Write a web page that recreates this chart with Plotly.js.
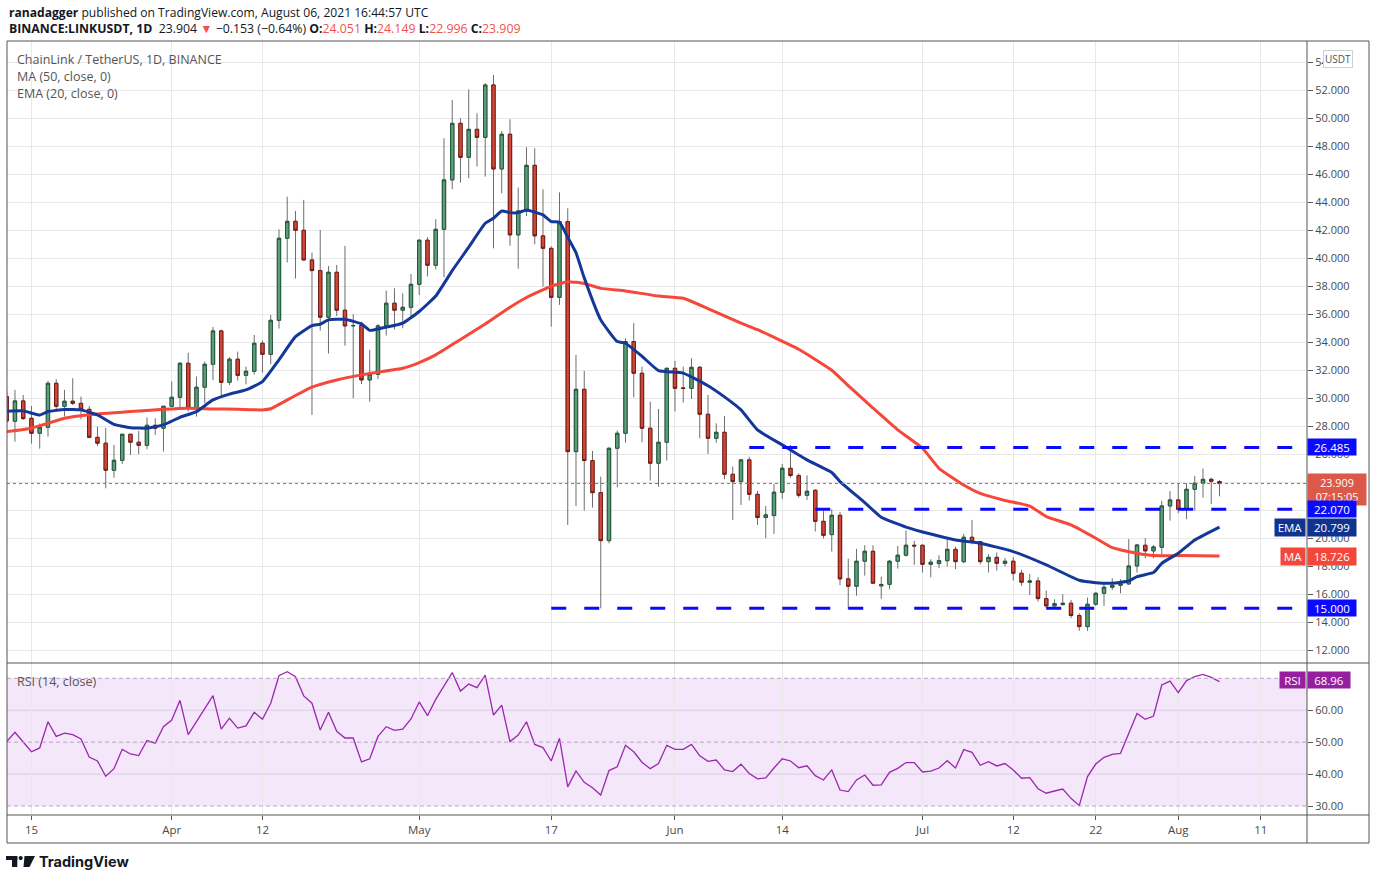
<!DOCTYPE html>
<html>
<head>
<meta charset="utf-8">
<script src="https://cdn.plot.ly/plotly-3.0.1.min.js"></script>
<style>
html,body{margin:0;padding:0;background:#fff;}
#chart{width:1376px;height:880px;}
</style>
</head>
<body>
<div id="chart"></div>
<script>
// ---------------- DATA ----------------
const dates = [
'2021-03-12','2021-03-13','2021-03-14','2021-03-15','2021-03-16','2021-03-17','2021-03-18','2021-03-19','2021-03-20','2021-03-21',
'2021-03-22','2021-03-23','2021-03-24','2021-03-25','2021-03-26','2021-03-27','2021-03-28','2021-03-29','2021-03-30','2021-03-31',
'2021-04-01','2021-04-02','2021-04-03','2021-04-04','2021-04-05','2021-04-06','2021-04-07','2021-04-08','2021-04-09','2021-04-10',
'2021-04-11','2021-04-12','2021-04-13','2021-04-14','2021-04-15','2021-04-16','2021-04-17','2021-04-18','2021-04-19','2021-04-20',
'2021-04-21','2021-04-22','2021-04-23','2021-04-24','2021-04-25','2021-04-26','2021-04-27','2021-04-28','2021-04-29','2021-04-30',
'2021-05-01','2021-05-02','2021-05-03','2021-05-04','2021-05-05','2021-05-06','2021-05-07','2021-05-08','2021-05-09','2021-05-10',
'2021-05-11','2021-05-12','2021-05-13','2021-05-14','2021-05-15','2021-05-16','2021-05-17','2021-05-18','2021-05-19','2021-05-20',
'2021-05-21','2021-05-22','2021-05-23','2021-05-24','2021-05-25','2021-05-26','2021-05-27','2021-05-28','2021-05-29','2021-05-30',
'2021-05-31',
'2021-06-01','2021-06-02','2021-06-03','2021-06-04','2021-06-05','2021-06-06','2021-06-07','2021-06-08','2021-06-09','2021-06-10',
'2021-06-11','2021-06-12','2021-06-13','2021-06-14','2021-06-15','2021-06-16','2021-06-17','2021-06-18','2021-06-19','2021-06-20',
'2021-06-21','2021-06-22','2021-06-23','2021-06-24','2021-06-25','2021-06-26','2021-06-27','2021-06-28','2021-06-29','2021-06-30',
'2021-07-01','2021-07-02','2021-07-03','2021-07-04','2021-07-05','2021-07-06','2021-07-07','2021-07-08','2021-07-09','2021-07-10',
'2021-07-11','2021-07-12','2021-07-13','2021-07-14','2021-07-15','2021-07-16','2021-07-17','2021-07-18','2021-07-19','2021-07-20',
'2021-07-21','2021-07-22','2021-07-23','2021-07-24','2021-07-25','2021-07-26','2021-07-27','2021-07-28','2021-07-29','2021-07-30',
'2021-07-31',
'2021-08-01','2021-08-02','2021-08-03','2021-08-04','2021-08-05','2021-08-06'
];

const open = [
// Mar
30.12,28.36,29.81,28.57,27.50,27.93,31.07,29.43,29.79,29.64,29.21,27.21,26.79,24.86,25.57,27.43,26.86,26.64,28.07,27.86,
// Apr
29.43,30.07,32.50,29.29,30.79,32.43,34.81,31.14,32.79,31.64,31.93,33.93,33.14,35.57,41.43,42.64,42.00,39.88,39.12,35.79,
39.00,36.29,35.17,35.20,31.31,31.71,35.17,36.79,36.29,36.50,
// May
38.14,41.29,39.50,42.07,45.60,49.64,47.21,49.21,48.64,52.38,46.38,48.86,41.67,43.38,46.64,41.60,40.71,37.21,42.62,26.19,
30.64,25.55,23.26,19.83,26.43,27.50,34.05,31.79,27.86,25.36,26.86,
// Jun
32.14,30.74,30.71,32.21,28.86,27.14,27.57,24.57,24.05,25.60,23.14,21.48,21.62,23.29,25.00,24.48,23.07,23.43,21.21,20.26,
21.64,17.10,16.57,18.36,19.07,16.60,16.71,18.36,18.79,19.50,
// Jul
19.50,18.14,18.19,18.40,19.21,18.33,20.07,19.76,18.33,18.64,18.21,18.36,17.50,16.86,16.95,15.69,15.17,15.26,15.36,14.48,
13.69,15.29,16.07,16.50,16.64,16.74,18.02,19.50,19.10,19.36,22.31,
// Aug
22.74,22.07,23.50,23.93,24.21,24.051
];
const high = [
30.55,30.60,30.24,29.45,28.20,31.24,31.36,30.60,31.43,30.12,29.45,27.98,27.88,26.67,27.45,27.45,27.67,28.64,28.57,29.45,
31.20,32.57,33.26,31.55,32.62,35.10,34.90,32.93,33.33,32.26,34.52,34.12,35.95,42.07,44.40,43.38,44.17,40.40,42.02,39.45,
39.52,40.88,36.00,35.48,33.45,35.30,37.69,37.86,37.50,38.88,
41.35,41.50,42.79,48.57,51.31,50.00,52.07,50.36,52.50,53.10,49.10,49.93,45.05,47.93,47.86,44.93,40.85,44.71,43.57,33.10,
31.95,26.24,24.40,26.50,27.70,34.29,35.36,32.26,29.76,29.24,32.20,
32.67,32.26,32.86,32.31,30.24,28.21,28.74,25.12,25.64,25.83,23.38,22.31,23.88,25.31,26.67,24.64,24.50,23.50,21.98,22.07,
21.88,18.55,19.24,19.50,19.50,17.26,18.45,19.45,20.55,19.81,
19.55,18.50,18.79,19.88,19.40,20.31,21.31,19.80,18.86,18.98,18.60,18.64,17.74,17.45,17.21,16.26,15.64,16.00,15.60,14.64,
15.76,16.14,16.83,17.14,17.07,19.95,19.60,20.00,19.52,22.67,23.38,
23.93,23.93,24.45,24.98,24.33,24.149
];
const low = [
28.20,26.90,28.45,26.76,26.40,27.26,29.05,28.70,29.52,28.50,27.14,26.60,23.57,24.33,25.31,25.95,26.00,26.36,27.38,26.20,
29.36,29.36,29.05,28.69,29.64,31.30,30.20,30.95,31.26,31.00,31.70,31.83,32.43,34.98,39.70,38.55,39.83,28.81,34.83,33.20,
35.88,33.76,30.00,31.02,29.76,31.36,34.48,34.93,35.00,35.83,
37.38,38.70,39.20,38.64,44.93,45.40,45.71,46.55,45.83,40.71,44.64,40.90,39.26,43.02,41.00,37.98,35.12,36.67,20.95,22.31,
21.98,22.19,15.00,19.64,23.64,26.83,30.07,26.86,24.12,23.69,25.55,
29.05,29.69,29.95,27.14,26.02,26.83,24.21,21.31,22.38,22.69,20.95,20.00,20.31,22.81,24.33,22.90,22.74,20.48,19.98,19.05,
16.64,14.95,15.90,17.33,16.74,15.67,16.36,17.83,18.69,18.10,
17.55,17.21,17.86,17.98,17.79,18.21,19.57,18.14,17.55,17.69,17.98,16.98,16.60,15.95,15.48,15.00,15.10,15.19,14.29,13.38,
13.38,15.17,15.17,16.31,16.07,16.67,17.55,18.57,18.57,18.81,21.26,
21.79,21.36,21.98,22.90,22.45,22.996
];
const close = [
28.38,29.81,28.55,27.50,27.93,31.07,29.43,29.79,29.64,29.21,27.21,26.79,24.86,25.57,27.43,26.86,26.64,28.07,27.86,29.43,
30.07,32.50,29.29,30.79,32.43,34.81,31.14,32.79,31.64,31.93,33.93,33.14,35.57,41.43,42.64,42.00,39.88,39.12,35.79,39.00,
36.29,35.17,35.20,31.31,31.71,35.17,36.79,36.29,36.50,38.14,
41.29,39.50,42.07,45.60,49.64,47.21,49.21,48.64,52.38,46.38,48.86,41.67,43.38,46.64,41.60,40.71,37.21,42.62,26.19,30.64,
25.55,23.26,19.83,26.43,27.50,34.05,31.79,27.86,25.36,26.86,32.14,
30.71,30.70,32.21,28.86,27.14,27.57,24.57,24.05,25.60,23.14,21.48,21.67,23.29,25.00,24.48,23.07,23.36,21.21,20.21,21.64,
17.10,16.57,18.36,19.07,16.79,16.70,18.36,18.79,19.50,19.45,
18.14,18.29,18.40,19.21,18.33,20.07,19.76,18.33,18.64,18.21,18.36,17.50,16.86,16.95,15.69,15.17,15.33,15.36,14.48,13.69,
15.29,16.07,16.50,16.64,16.74,18.02,19.52,19.10,19.38,22.31,22.74,
22.07,23.50,23.93,24.21,24.07,23.909
];

const rsi = [
50.16,53.08,50.05,47.0,48.2,56.4,51.8,52.8,52.35,51.0,45.35,44.1,39.3,41.7,47.75,46.3,45.8,50.5,49.7,54.85,
56.95,63.1,52.35,56.5,60.4,64.6,54.1,57.5,54.4,55.1,59.35,57.15,62.2,70.8,72.1,70.5,64.5,62.2,53.8,59.35,
53.4,51.3,51.3,43.8,44.8,51.8,54.85,53.7,54.1,57.25,
62.6,58.3,63.4,67.4,71.8,66.0,68.2,67.1,71.0,58.5,61.6,50.2,52.25,56.4,49.3,48.3,44.1,51.2,36.0,41.0,
37.4,35.75,33.45,41.1,42.3,49.0,47.0,43.7,41.7,43.3,49.0,
47.75,47.75,49.3,45.7,44.0,44.4,41.3,40.8,43.1,40.2,38.5,38.8,41.9,44.8,44.1,42.0,42.6,39.5,38.15,41.3,
35.0,34.5,38.15,39.7,36.5,36.6,40.55,41.8,43.6,43.6,
40.65,40.95,41.9,44.2,41.9,47.65,46.8,42.75,43.9,42.55,43.3,41.3,38.7,38.9,35.4,34.0,34.7,35.3,32.4,30.1,
39.2,43.15,45.25,46.2,46.5,52.8,59.0,57.15,58.2,67.9,69.1,
65.5,69.3,70.5,71.25,70.3,68.96
];

// MA (50)
const maDates = ['2021-03-12','2021-03-15','2021-03-19','2021-03-22','2021-03-27','2021-03-31','2021-04-03','2021-04-06','2021-04-09','2021-04-12',
'2021-04-13','2021-04-16','2021-04-18','2021-04-21','2021-04-24','2021-04-26','2021-04-29','2021-05-01','2021-05-03','2021-05-06',
'2021-05-09','2021-05-12','2021-05-14','2021-05-17','2021-05-19','2021-05-21','2021-05-23','2021-05-26','2021-05-30','2021-06-02',
'2021-06-05','2021-06-09','2021-06-11','2021-06-16','2021-06-20','2021-06-22','2021-06-25','2021-06-28','2021-07-01','2021-07-03',
'2021-07-06','2021-07-08','2021-07-11','2021-07-14','2021-07-16','2021-07-19','2021-07-22','2021-07-24','2021-07-27','2021-07-29',
'2021-08-01','2021-08-06'];
const maVals = [27.62,27.86,28.57,28.82,29.05,29.21,29.29,29.24,29.21,29.17,
29.25,30.2,30.8,31.31,31.67,31.86,32.14,32.55,33.1,34.2,
35.3,36.5,37.2,38.0,38.33,38.2,37.85,37.67,37.3,37.14,
36.4,35.36,34.9,33.5,32.0,30.9,29.3,27.74,26.43,25.0,
23.8,23.2,22.7,22.3,21.55,20.95,20.0,19.33,18.93,18.76,
18.76,18.726];

// EMA (20)
const emaDates = ['2021-03-12','2021-03-14','2021-03-16','2021-03-17','2021-03-19','2021-03-21','2021-03-23','2021-03-25','2021-03-27','2021-03-29',
'2021-03-31','2021-04-02','2021-04-04','2021-04-06','2021-04-08','2021-04-10','2021-04-12','2021-04-14','2021-04-16','2021-04-18',
'2021-04-19','2021-04-20','2021-04-22','2021-04-24','2021-04-25','2021-04-26','2021-04-29','2021-05-01','2021-05-03','2021-05-05',
'2021-05-07','2021-05-09','2021-05-10','2021-05-11','2021-05-12','2021-05-13','2021-05-14','2021-05-15','2021-05-16','2021-05-17',
'2021-05-18','2021-05-19','2021-05-20','2021-05-21','2021-05-23','2021-05-25','2021-05-26','2021-05-28','2021-05-30','2021-06-02',
'2021-06-05','2021-06-07','2021-06-09','2021-06-11','2021-06-14','2021-06-17','2021-06-20','2021-06-21','2021-06-24','2021-06-26',
'2021-06-29','2021-07-02','2021-07-05','2021-07-08','2021-07-12','2021-07-16','2021-07-20','2021-07-22','2021-07-24','2021-07-26',
'2021-07-27','2021-07-29','2021-07-30','2021-08-01','2021-08-03','2021-08-06'];
const emaVals = [29.07,29.1,28.8,29.05,29.2,29.17,28.81,28.14,27.9,27.86,
28.1,28.64,29.05,29.88,30.3,30.6,31.19,32.74,34.4,35.19,
35.29,35.6,35.64,35.31,34.85,34.95,35.36,36.2,37.3,39.12,
40.79,42.5,42.86,43.38,43.26,43.26,43.45,43.3,43.1,42.62,
42.57,41.5,40.4,38.6,35.6,34.05,33.93,33.0,31.98,31.8,
30.9,30.1,29.17,27.74,26.67,25.6,24.7,24.05,22.55,21.5,
20.8,20.3,19.88,19.65,19.05,18.1,17.0,16.83,16.79,16.95,
17.26,17.55,18.21,18.93,19.88,20.8];

// Horizontal levels drawn by the author
const levelVals  = [26.485, 22.070, 15.000];
const levelStart = ['2021-06-10','2021-06-18','2021-05-17'];
const levelEnd   = '2021-08-15 18:00';

const lastPrice = 23.909;
const countdown = '07:15:05';
const lastEMA = 20.799;
const lastMA = 18.726;
const lastRSI = 68.96;

const xTickVals = ['2021-03-15','2021-04-01','2021-04-12','2021-05-01','2021-05-17','2021-06-01','2021-06-14','2021-07-01','2021-07-12','2021-07-22','2021-08-01','2021-08-11'];
const xTickText = ['15','Apr','12','May','17','Jun','14','Jul','12','22','Aug','11'];
const priceTicks = [12,14,16,18,20,22,24,26,28,30,32,34,36,38,40,42,44,46,48,50,52,54];
// labels hidden behind the price badges in the original are left blank
const priceTickText = ['12.000','14.000','16.000','18.000','20.000','','','26.000','28.000','30.000','32.000','34.000','36.000','38.000','40.000','42.000','44.000','46.000','48.000','50.000','52.000','54.000'];
const rsiTicks = [30,40,50,60];

// ---------------- LAYOUT HELPERS ----------------
const L = 7, R = 1307, T = 41, B = 815;
const px = x => (x - L) / (R - L);
const py = y => (B - y) / (B - T);
const FONT = 'Open Sans, Noto Sans, sans-serif';

const bodyHigh = open.map((o,i) => Math.max(o, close[i]));
const bodyLow  = open.map((o,i) => Math.min(o, close[i]));

const UPF = '#5d9e7a', UPB = '#21573a', DNF = '#d64636', DNB = '#6f1b15', WICK = '#6e6e6e';

const traces = [
  { type:'candlestick', x:dates, open:open, high:high, low:low, close:close,
    xaxis:'x', yaxis:'y', hoverinfo:'skip', whiskerwidth:0,
    increasing:{line:{color:WICK,width:1}, fillcolor:'rgba(0,0,0,0)'},
    decreasing:{line:{color:WICK,width:1}, fillcolor:'rgba(0,0,0,0)'} },
  { type:'candlestick', x:dates, open:open, high:bodyHigh, low:bodyLow, close:close,
    xaxis:'x', yaxis:'y', hoverinfo:'skip', whiskerwidth:0,
    increasing:{line:{color:UPB,width:1}, fillcolor:UPF},
    decreasing:{line:{color:DNB,width:1}, fillcolor:DNF} },
  { type:'scatter', mode:'lines', x:maDates, y:maVals, xaxis:'x', yaxis:'y',
    line:{color:'#f6473b', width:3, shape:'spline', smoothing:0.4}, hoverinfo:'skip' },
  { type:'scatter', mode:'lines', x:emaDates, y:emaVals, xaxis:'x', yaxis:'y',
    line:{color:'#13389a', width:3, shape:'spline', smoothing:0.4}, hoverinfo:'skip' },
  { type:'scatter', mode:'lines', x:dates, y:rsi, xaxis:'x', yaxis:'y2',
    line:{color:'#9c27b0', width:1.3}, hoverinfo:'skip' }
];

const FR = '#555555';
const shapes = [
  {type:'rect', xref:'paper', yref:'y2', x0:0, x1:1, y0:30, y1:70, fillcolor:'rgba(156,39,200,0.11)', line:{width:0}, layer:'below'},
  {type:'line', xref:'paper', yref:'y2', x0:0, x1:1, y0:70, y1:70, line:{color:'#b9a6c2', width:1, dash:'4px,3px'}},
  {type:'line', xref:'paper', yref:'y2', x0:0, x1:1, y0:50, y1:50, line:{color:'#b9a6c2', width:1, dash:'4px,3px'}},
  {type:'line', xref:'paper', yref:'y2', x0:0, x1:1, y0:30, y1:30, line:{color:'#b9a6c2', width:1, dash:'4px,3px'}},
  {type:'line', xref:'paper', yref:'y2', x0:0, x1:1, y0:60, y1:60, line:{color:'#dacde2', width:1}, layer:'below'},
  {type:'line', xref:'paper', yref:'y2', x0:0, x1:1, y0:40, y1:40, line:{color:'#dacde2', width:1}, layer:'below'},
  {type:'line', xref:'paper', yref:'y', x0:0, x1:1, y0:lastPrice, y1:lastPrice, line:{color:'#de5546', width:1, dash:'dot'}},
  {type:'rect', xref:'paper', yref:'paper', x0:px(7), x1:px(1369), y0:py(843), y1:py(41), line:{color:FR, width:1}, fillcolor:'rgba(0,0,0,0)'},
  {type:'line', xref:'paper', yref:'paper', x0:px(1307), x1:px(1307), y0:py(843), y1:py(41), line:{color:FR, width:1}},
  {type:'line', xref:'paper', yref:'paper', x0:px(7), x1:px(1369), y0:py(663), y1:py(663), line:{color:FR, width:1}},
  {type:'line', xref:'paper', yref:'paper', x0:px(7), x1:px(1369), y0:py(815), y1:py(815), line:{color:FR, width:1}},
  {type:'rect', xref:'paper', yref:'paper', x0:px(6), x1:px(17.3), y0:py(860), y1:py(856), fillcolor:'#131722', line:{width:0}},
  {type:'rect', xref:'paper', yref:'paper', x0:px(12), x1:px(17.3), y0:py(867), y1:py(856), fillcolor:'#131722', line:{width:0}},
  {type:'circle', xref:'paper', yref:'paper', x0:px(18.6), x1:px(22.8), y0:py(860.2), y1:py(856), fillcolor:'#131722', line:{width:0}},
  {type:'path', xref:'paper', yref:'paper',
   path:`M ${px(24.5)},${py(856)} L ${px(35)},${py(856)} L ${px(29.5)},${py(867)} L ${px(23.5)},${py(867)} Z`,
   fillcolor:'#131722', line:{width:0}}
];
levelVals.forEach((v,k) => {
  shapes.push({type:'line', xref:'x', yref:'y', x0:levelStart[k], x1:levelEnd, y0:v, y1:v,
    line:{color:'#0a0aff', width:3, dash:'15px,18px'}});
});

function badge(text, yval, yref, bg, w, h, xpix, anchor, fs) {
  return {xref:'paper', yref:yref, x:px(xpix), y:yval, xanchor:anchor||'left', yanchor:'middle',
    text:text, showarrow:false, bgcolor:bg, width:w, height:h, borderpad:0, align:'center',
    font:{family:FONT, size:fs||11.5, color:'#ffffff'}};
}

const annotations = [
  {xref:'paper', yref:'paper', x:px(7), y:py(12), xanchor:'left', yanchor:'middle', showarrow:false,
   text:'<b>ranadagger</b> published on TradingView.com, August 06, 2021 16:44:57 UTC',
   font:{family:FONT, size:12.1, color:'#131722'}},
  {xref:'paper', yref:'paper', x:px(7), y:py(29), xanchor:'left', yanchor:'middle', showarrow:false,
   text:'<b>BINANCE:LINKUSDT, 1D</b>  23.904 <span style="color:#ef5350">▼</span> −0.153 (−0.64%) <b>O:</b><span style="color:#ef5350">24.051</span> <b>H:</b><span style="color:#ef5350">24.149</span> <b>L:</b><span style="color:#ef5350">22.996</span> <b>C:</b><span style="color:#ef5350">23.909</span>',
   font:{family:FONT, size:12.3, color:'#131722'}},
  {xref:'paper', yref:'paper', x:px(15), y:py(60), xanchor:'left', yanchor:'middle', showarrow:false,
   text:'ChainLink / TetherUS, 1D, BINANCE', font:{family:FONT, size:12.5, color:'#555555'}},
  {xref:'paper', yref:'paper', x:px(15), y:py(77), xanchor:'left', yanchor:'middle', showarrow:false,
   text:'MA (50, close, 0)', font:{family:FONT, size:12.5, color:'#555555'}},
  {xref:'paper', yref:'paper', x:px(15), y:py(94), xanchor:'left', yanchor:'middle', showarrow:false,
   text:'EMA (20, close, 0)', font:{family:FONT, size:12.5, color:'#555555'}},
  {xref:'paper', yref:'paper', x:px(15), y:py(681), xanchor:'left', yanchor:'middle', showarrow:false,
   text:'RSI (14, close)', font:{family:FONT, size:12.5, color:'#555555'}},
  {xref:'paper', yref:'paper', x:px(37), y:py(861), xanchor:'left', yanchor:'middle', showarrow:false,
   text:'<b>TradingView</b>', font:{family:'Inter, Open Sans, sans-serif', size:14.5, color:'#131722'}},
  {xref:'paper', yref:'paper', x:px(1338), y:py(59), xanchor:'center', yanchor:'middle', showarrow:false,
   text:'USDT', bgcolor:'#ffffff', bordercolor:'#d0d0d0', borderwidth:1, borderpad:1,
   font:{family:FONT, size:10, color:'#555555'}},
  badge(levelVals[0].toFixed(3), levelVals[0], 'y', '#0a0aff', 48, 16, 1307),
  badge(lastPrice.toFixed(3)+'<br>'+countdown, lastPrice - 0.45, 'y', '#dc5848', 58, 31, 1307, 'left', 10.8),
  badge(levelVals[1].toFixed(3), levelVals[1], 'y', '#0a0aff', 48, 16, 1307),
  badge('EMA', lastEMA, 'y', '#10338f', 30, 17, 1305.5, 'right'),
  badge(lastEMA.toFixed(3), lastEMA, 'y', '#10338f', 48, 17, 1307),
  badge('MA', lastMA, 'y', '#f4473a', 24, 17, 1305.5, 'right'),
  badge(lastMA.toFixed(3), lastMA, 'y', '#f4473a', 48, 17, 1307),
  badge(levelVals[2].toFixed(3), levelVals[2], 'y', '#0a0aff', 48, 16, 1307),
  badge('RSI', lastRSI + 0.5, 'y2', '#951f9f', 25, 16, 1305.5, 'right'),
  badge(lastRSI.toFixed(2), lastRSI + 0.5, 'y2', '#951f9f', 42, 16, 1307)
];

const layout = {
  width:1376, height:880,
  margin:{l:L, r:1376-R, t:T, b:880-B, pad:0},
  paper_bgcolor:'#ffffff', plot_bgcolor:'#ffffff',
  showlegend:false, hovermode:false, dragmode:false,
  boxgap:0.42,
  font:{family:FONT, size:11, color:'#4a4a4a'},
  xaxis:{type:'date', domain:[0,1], anchor:'y2',
    range:['2021-03-12 00:50','2021-08-16 14:30'],
    rangeslider:{visible:false},
    tickmode:'array', tickvals:xTickVals, ticktext:xTickText,
    showgrid:true, gridcolor:'#e8e8e8', gridwidth:1,
    ticks:'outside', ticklen:4, tickcolor:'#555555',
    showline:false, zeroline:false,
    tickfont:{family:FONT, size:11.5, color:'#4a4a4a'}},
  yaxis:{domain:[(B-663)/(B-T),1], side:'right', anchor:'x',
    range:[11.09, 55.52], tickmode:'array', tickvals:priceTicks, ticktext:priceTickText,
    showgrid:true, gridcolor:'#e8e8e8', gridwidth:1, zeroline:false,
    ticks:'outside', ticklen:5, tickcolor:'#555555', showline:false,
    tickfont:{family:FONT, size:11, color:'#4a4a4a'}},
  yaxis2:{domain:[0,(B-663)/(B-T)], side:'right', anchor:'x',
    range:[27.18, 74.8], tickmode:'array', tickvals:rsiTicks, tickformat:'.2f',
    showgrid:false, zeroline:false,
    ticks:'outside', ticklen:5, tickcolor:'#555555', showline:false,
    tickfont:{family:FONT, size:11, color:'#4a4a4a'}},
  shapes:shapes,
  annotations:annotations
};

Plotly.newPlot('chart', traces, layout, {staticPlot:true, displayModeBar:false});
</script>
</body>
</html>
